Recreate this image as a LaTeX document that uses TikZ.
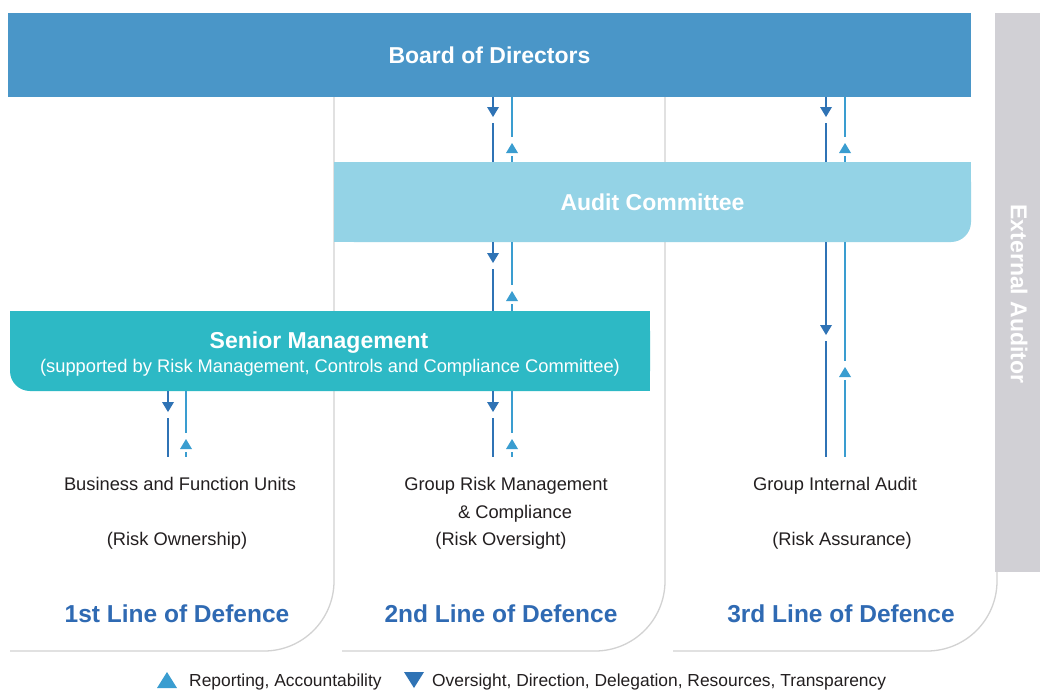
\documentclass[tikz,border=0pt]{standalone}
\usepackage{fontspec}
\setmainfont{Liberation Sans}
\usetikzlibrary{calc}
\definecolor{boardc}{HTML}{4A96C8}
\definecolor{auditc}{HTML}{94D3E6}
\definecolor{seniorc}{HTML}{2DB9C5}
\definecolor{extc}{HTML}{D1D0D5}
\definecolor{linec}{HTML}{D2D2D2}
\definecolor{dnc}{HTML}{2F73B5}
\definecolor{upc}{HTML}{3A9DD0}
\definecolor{lodc}{HTML}{2F6AB3}
\definecolor{txtc}{HTML}{231F20}
% down arrow: column coordinate, from node anchor, to anchor, offset of triangle base
\newcommand\dnArr[4]{%
  \draw[dnline] (#2 -| #1) -- ($(#2 -| #1)+(0,#4)$);
  \fill[dnc] ($(#2 -| #1)+(-6,#4)$) -- ($(#2 -| #1)+(6,#4)$) -- ($(#2 -| #1)+(0,#4+10)$) -- cycle;
  \draw[dnline] ($(#2 -| #1)+(0,#4+16)$) -- (#3 -| #1);}
% up arrow: column coordinate, from node anchor, to anchor, offset of triangle tip
\newcommand\upArr[4]{%
  \draw[upline] (#2 -| #1) -- ($(#2 -| #1)+(0,#4-6)$);
  \fill[upc] ($(#2 -| #1)+(0,#4)$) -- ($(#2 -| #1)+(6,#4+10)$) -- ($(#2 -| #1)+(-6,#4+10)$) -- cycle;
  \draw[upline] ($(#2 -| #1)+(0,#4+13)$) -- (#3 -| #1);}
\begin{document}
\begin{tikzpicture}[x=1pt,y=-1pt,
  box/.style={inner sep=0pt, outer sep=0pt, anchor=north west},
  boxtext/.style={text=white, font=\bfseries\fontsize{23}{27}\selectfont},
  unit/.style={text=txtc, font=\fontsize{18.3}{22}\selectfont, anchor=base, inner sep=0pt},
  lod/.style={text=lodc, font=\bfseries\fontsize{24.5}{29}\selectfont, anchor=base, inner sep=0pt},
  legend/.style={text=txtc, font=\fontsize{17.4}{21}\selectfont, anchor=base west, inner sep=0pt},
  colline/.style={draw=linec, line width=1.3pt, rounded corners=70pt},
  dnline/.style={draw=dnc, line width=1.8pt},
  upline/.style={draw=upc, line width=1.6pt}]
\useasboundingbox (0,0) rectangle (1040,689);
\fill[white] (0,0) rectangle (1040,689);
% column outlines
\draw[colline] (10,651) -- (334,651) -- (334,97);
\draw[colline] (342,651) -- (665,651) -- (665,97);
\draw[colline] (673,651) -- (997,651) -- (997,97);
% board
\node[box, fill=boardc, minimum width=963pt, minimum height=84pt, boxtext] (board) at (8,13) {Board of Directors};
% audit committee
\fill[auditc] (334,162) rectangle (951,242);
\fill[auditc] (334,162) rectangle (971,222);
\node[box, fill=auditc, rounded corners=20pt, minimum width=637pt, minimum height=80pt, boxtext] (audit) at (334,162) {Audit Committee};
% senior management
\fill[seniorc] (30,311) rectangle (650,391);
\fill[seniorc] (10,311) rectangle (650,371);
\node[box, fill=seniorc, rounded corners=20pt, minimum width=640pt, minimum height=80pt] (senior) at (10,311) {};
\node[anchor=base, inner sep=0pt, boxtext] (seniort) at (319,348) {Senior Management};
\node[anchor=base, inner sep=0pt, text=white, font=\fontsize{18.3}{22}\selectfont] (seniors) at (330,372) {(supported by Risk Management, Controls and Compliance Committee)};
% external auditor
\node[box, fill=extc, minimum width=45pt, minimum height=559pt] (ext) at (995,13) {};
\node[rotate=-90, text=white, font=\bfseries\fontsize{23}{27}\selectfont, inner sep=0pt] (extt) at (1019,294) {External Auditor};
% column reference coordinates
\coordinate (c1d) at (168,0);
\coordinate (c1u) at (186,0);
\coordinate (c2d) at (493,0);
\coordinate (c2u) at (512,0);
\coordinate (c3d) at (826,0);
\coordinate (c3u) at (845,0);
\coordinate (unitsTop) at (0,457);
% arrows
\dnArr{c2d}{board.south}{audit.north}{10}
\upArr{c2u}{board.south}{audit.north}{46}
\dnArr{c3d}{board.south}{audit.north}{10}
\upArr{c3u}{board.south}{audit.north}{46}
\dnArr{c2d}{audit.south}{senior.north}{11}
\upArr{c2u}{audit.south}{senior.north}{49}
\dnArr{c1d}{senior.south}{unitsTop}{11}
\upArr{c1u}{senior.south}{unitsTop}{48}
\dnArr{c2d}{senior.south}{unitsTop}{11}
\upArr{c2u}{senior.south}{unitsTop}{48}
\dnArr{c3d}{audit.south}{unitsTop}{83}
\upArr{c3u}{audit.south}{unitsTop}{125}
% unit texts
\node[unit] (u1a) at (180,490) {Business and Function Units};
\node[unit] (u1b) at (177,545) {(Risk Ownership)};
\node[unit] (u2a) at (506,490) {Group Risk Management};
\node[unit] (u2b) at (515,518) {\& Compliance};
\node[unit] (u2c) at (501,545) {(Risk Oversight)};
\node[unit] (u3a) at (835,490) {Group Internal Audit};
\node[unit] (u3b) at (842,545) {(Risk Assurance)};
% lines of defence
\node[lod] (l1) at (177,622) {1st Line of Defence};
\node[lod] (l2) at (501,622) {2nd Line of Defence};
\node[lod] (l3) at (841,622) {3rd Line of Defence};
% legend
\fill[upc] (157,688) -- (177,688) -- (167,672) -- cycle;
\node[legend] (legup) at (189,686) {Reporting, Accountability};
\fill[dnc] (404,672) -- (424,672) -- (414,688) -- cycle;
\node[legend] (legdn) at (432,686) {Oversight, Direction, Delegation, Resources, Transparency};
\end{tikzpicture}
\end{document}
